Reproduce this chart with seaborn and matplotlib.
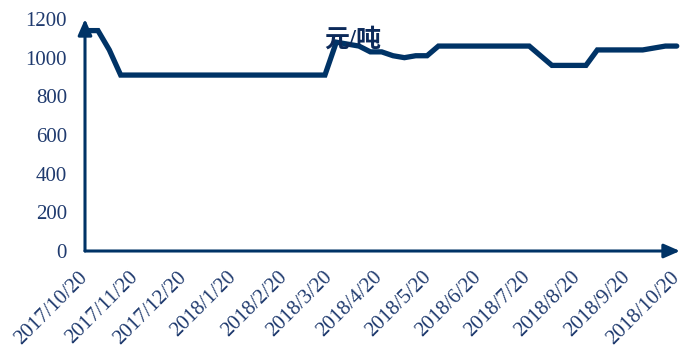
import matplotlib
matplotlib.use("Agg")
import matplotlib.pyplot as plt
import matplotlib.transforms as mtransforms
import seaborn as sns
import pandas as pd

# Weekly price series (Fridays), 元/吨
start_date = "2017-10-20"
n_weeks = 53
prices = [
    1140, 1140, 1040, 910, 910, 910, 910, 910, 910, 910,
    910, 910, 910, 910, 910, 910, 910, 910, 910, 910,
    910, 910, 1080, 1070, 1060, 1030, 1030, 1010, 1000, 1010,
    1010, 1060, 1060, 1060, 1060, 1060, 1060, 1060, 1060, 1060,
    1010, 960, 960, 960, 960, 1040, 1040, 1040, 1040, 1040,
    1050, 1060, 1060,
]
tick_dates = [
    "2017-10-20", "2017-11-20", "2017-12-20", "2018-01-20", "2018-02-20",
    "2018-03-20", "2018-04-20", "2018-05-20", "2018-06-20", "2018-07-20",
    "2018-08-20", "2018-09-20", "2018-10-20",
]
tick_labels = [
    "2017/10/20", "2017/11/20", "2017/12/20", "2018/1/20", "2018/2/20",
    "2018/3/20", "2018/4/20", "2018/5/20", "2018/6/20", "2018/7/20",
    "2018/8/20", "2018/9/20", "2018/10/20",
]
y_ticks = [0, 200, 400, 600, 800, 1000, 1200]
unit_label = "元/吨"

df = pd.DataFrame({
    "date": pd.date_range(start_date, periods=n_weeks, freq="7D"),
    "price": prices,
})

sns.set_theme(style="white")
plt.rcParams["font.family"] = ["Liberation Serif", "DejaVu Serif"]

line_color = "#003366"
text_color = "#1F3A6E"

fig = plt.figure(figsize=(6.83, 3.47), dpi=100)
ax = fig.add_axes([85 / 683, 96 / 347, 595 / 683, 232 / 347])

sns.lineplot(data=df, x="date", y="price", ax=ax, color=line_color,
             linewidth=3.8, solid_joinstyle="miter")

ax.set_xlim(pd.Timestamp("2017-10-19"), pd.Timestamp("2018-10-21"))
ax.set_ylim(0, 1200)
ax.set_xlabel("")
ax.set_ylabel("")

ax.set_yticks(y_ticks)
ax.set_yticklabels([str(v) for v in y_ticks], fontsize=15, color=text_color)
ax.set_xticks(pd.to_datetime(tick_dates))
ax.set_xticklabels(tick_labels, fontsize=15, color=text_color,
                   rotation=45, ha="right", va="center", rotation_mode="anchor")
ax.tick_params(axis="both", length=0)
ax.tick_params(axis="y", pad=13)
ax.tick_params(axis="x", pad=17)

# nudge the slanted date labels a little to the left
shift = mtransforms.ScaledTranslation(-2 / 100, 0, fig.dpi_scale_trans)
for lbl in ax.get_xticklabels():
    lbl.set_transform(lbl.get_transform() + shift)

for side in ["top", "right", "left", "bottom"]:
    ax.spines[side].set_visible(False)

# Axis lines with arrowheads
arrow_kw = dict(arrowstyle="-|>,head_length=0.8,head_width=0.35",
                color=line_color, lw=2.2, shrinkA=0, shrinkB=0)
ax.annotate("", xy=(0, 1.0), xytext=(0, 0), xycoords="axes fraction",
            arrowprops=arrow_kw, clip_on=False)
ax.annotate("", xy=(1.0, 0), xytext=(0, 0), xycoords="axes fraction",
            arrowprops=arrow_kw, clip_on=False)

ax.text(0.402, 0.91, unit_label, transform=ax.transAxes, fontsize=18,
        fontweight="bold", color="#0C2A5A", ha="left", va="center",
        family=["Liberation Serif", "Noto Sans CJK SC"])

fig.savefig("out.png", dpi=100)
